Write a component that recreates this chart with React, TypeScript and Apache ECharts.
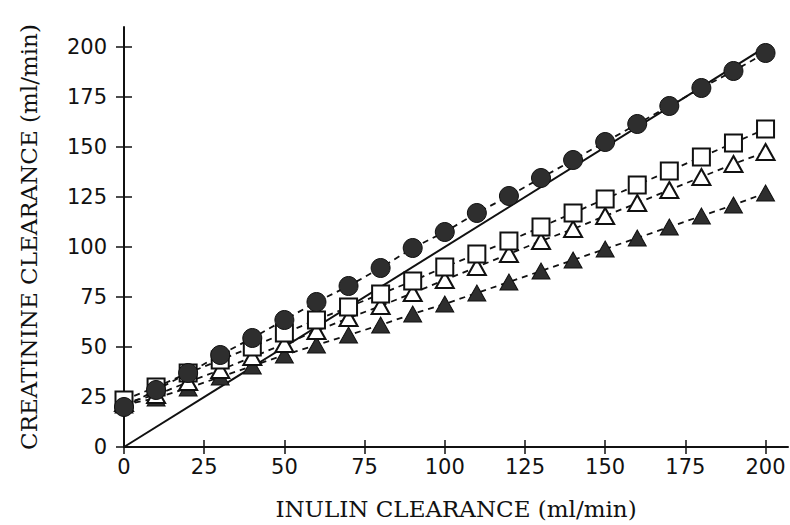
import React, { useEffect, useRef } from "react";
import * as echarts from "echarts";

const inulin = [0, 10, 20, 30, 40, 50, 60, 70, 80, 90, 100, 110, 120, 130, 140, 150, 160, 170, 180, 190, 200];
const circles = [20, 28.5, 37, 46, 54.5, 63.5, 72.5, 80.5, 89.5, 99.5, 107.5, 117, 125.5, 134.5, 143.5, 152.5, 161.5, 170.5, 179.5, 188, 197];
const squares = [23.5, 30, 37, 43.5, 50, 57, 63.5, 70, 76.5, 83, 90, 96.5, 103, 110, 117, 124, 131, 138, 145, 152, 159];
const openTriangles = [22, 26, 32.5, 38.5, 45, 51.5, 58, 64.5, 70.5, 77, 83.5, 90, 96.5, 103, 109, 115.5, 122, 128.5, 135, 141.5, 147.5];
const filledTriangles = [21, 24.5, 29.5, 35, 40.5, 46, 51, 56, 61, 66.5, 71.5, 77, 82.5, 88, 93.5, 99, 104.5, 110, 115.5, 121, 127];
const identityLine = [[0, 0], [200, 200]];
const tickValues = [0, 25, 50, 75, 100, 125, 150, 175, 200];

const pairs = (ys: number[]) => inulin.map((x, i) => [x, ys[i]]);

export default function App() {
  const ref = useRef<HTMLDivElement>(null);
  useEffect(() => {
    if (!ref.current) return;
    const chart = echarts.init(ref.current, null, { renderer: "svg" });
    const gridPos = { left: 124, right: 2, top: 27, bottom: 78 };
    const xMax = 207;
    const yMax = 210;
    const labelFont = { fontFamily: "DejaVu Sans", fontSize: 21, color: "#111" };
    const titleFont = { fontFamily: "DejaVu Serif", fontSize: 23, color: "#111" };
    const axisLine = { show: true, lineStyle: { color: "#111", width: 2 } };
    const tickStyle = { color: "#111", width: 1.5 };
    const dashed = { color: "#111", width: 1.8, type: [6, 5] as any };
    const filled = { color: "#2e2e2e", borderColor: "#111", borderWidth: 1 };
    const open = { color: "#fff", borderColor: "#111", borderWidth: 2 };
    chart.setOption({
      animation: false,
      backgroundColor: "#fff",
      grid: [{ ...gridPos }, { ...gridPos }],
      xAxis: [
        {
          type: "value", gridIndex: 0, min: 0, max: xMax,
          name: "INULIN CLEARANCE (ml/min)", nameLocation: "middle", nameGap: 50,
          nameTextStyle: titleFont,
          axisLine,
          axisTick: { show: true, inside: false, length: 7, customValues: tickValues, lineStyle: tickStyle },
          axisLabel: { ...labelFont, margin: 9, customValues: tickValues },
          splitLine: { show: false },
        },
        {
          type: "value", gridIndex: 1, min: 0, max: xMax,
          axisLine: { show: false },
          axisTick: { show: true, inside: true, length: 7, customValues: tickValues, lineStyle: tickStyle },
          axisLabel: { show: false },
          splitLine: { show: false },
        },
      ],
      yAxis: [
        {
          type: "value", gridIndex: 0, min: 0, max: yMax,
          name: "CREATININE CLEARANCE (ml/min)", nameLocation: "middle", nameGap: 84, nameRotate: 90,
          nameTextStyle: titleFont,
          axisLine,
          axisTick: { show: true, inside: false, length: 8, customValues: tickValues, lineStyle: tickStyle },
          axisLabel: { ...labelFont, margin: 17, customValues: tickValues },
          splitLine: { show: false },
        },
        {
          type: "value", gridIndex: 1, min: 0, max: yMax,
          axisLine: { show: false },
          axisTick: { show: true, inside: true, length: 8, customValues: tickValues, lineStyle: tickStyle },
          axisLabel: { show: false },
          splitLine: { show: false },
        },
      ],
      series: [
        {
          type: "line", data: identityLine, symbol: "none",
          lineStyle: { color: "#111", width: 2 }, z: 1,
        },
        {
          type: "line", data: pairs(filledTriangles), symbol: "triangle", symbolSize: [18, 16],
          lineStyle: dashed, itemStyle: filled, z: 2,
        },
        {
          type: "line", data: pairs(openTriangles), symbol: "triangle", symbolSize: [18, 16],
          lineStyle: dashed, itemStyle: open, z: 3,
        },
        {
          type: "line", data: pairs(squares), symbol: "rect", symbolSize: 17,
          lineStyle: dashed, itemStyle: open, z: 4,
        },
        {
          type: "line", data: pairs(circles), symbol: "circle", symbolSize: 19,
          lineStyle: dashed, itemStyle: filled, z: 5,
        },
      ],
    });
    return () => chart.dispose();
  }, []);
  return (
    <div
      ref={ref}
      style={{ position: "fixed", left: 0, top: 0, width: 790, height: 525, background: "#fff" }}
    />
  );
}
